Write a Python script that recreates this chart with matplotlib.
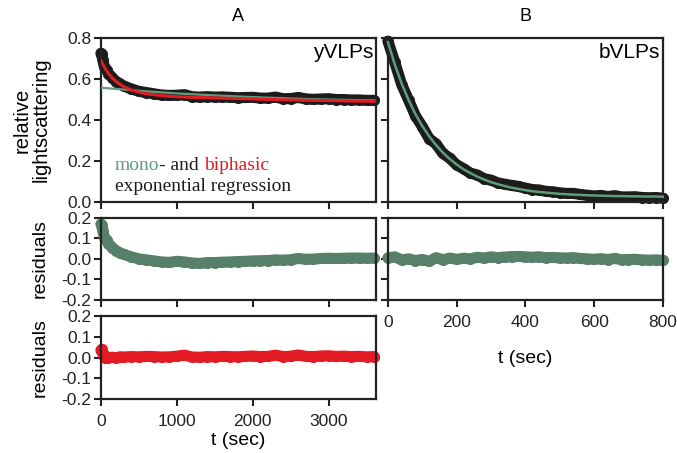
import numpy as np
import matplotlib
matplotlib.use("Agg")
import matplotlib.pyplot as plt

plt.rcParams['font.family'] = ['Liberation Sans', 'DejaVu Sans']

# ---- panel A (yVLPs) ----
t_A = [0, 10, 25, 50, 75, 100, 150, 200, 250, 300, 400, 500, 600, 700, 800, 900,
       1000, 1100, 1200, 1300, 1400, 1500, 1600, 1700, 1800, 1900, 2000, 2100,
       2200, 2300, 2400, 2500, 2600, 2700, 2800, 2900, 3000, 3100, 3200, 3300,
       3400, 3500, 3600]
data_A = [0.725, 0.722, 0.692, 0.655, 0.645, 0.627, 0.607, 0.588, 0.578, 0.566,
          0.552, 0.540, 0.534, 0.528, 0.522, 0.520, 0.521, 0.524, 0.514, 0.512,
          0.514, 0.512, 0.513, 0.511, 0.509, 0.510, 0.511, 0.507, 0.507, 0.512,
          0.504, 0.505, 0.510, 0.503, 0.501, 0.503, 0.504, 0.500, 0.500, 0.498,
          0.498, 0.496, 0.496]
resid_mono_A = [0.170, 0.165, 0.135, 0.100, 0.090, 0.075, 0.055, 0.040, 0.030, 0.022,
                0.010, 0.000, -0.005, -0.010, -0.015, -0.017, -0.012, -0.015, -0.020,
                -0.022, -0.018, -0.018, -0.016, -0.015, -0.013, -0.012, -0.010, -0.009,
                -0.008, -0.005, -0.006, -0.004, 0.002, -0.002, -0.001, 0.002, 0.003,
                0.002, 0.003, 0.004, 0.004, 0.003, 0.004]
resid_bi_A = [0.035, 0.040, 0.020, 0.000, 0.005, 0.000, 0.002, 0.000, 0.004, 0.003,
              0.005, 0.004, 0.006, 0.005, 0.003, 0.004, 0.007, 0.012, 0.003, 0.002,
              0.005, 0.004, 0.006, 0.005, 0.004, 0.006, 0.008, 0.005, 0.006, 0.012,
              0.005, 0.007, 0.013, 0.006, 0.005, 0.008, 0.009, 0.006, 0.007, 0.005,
              0.006, 0.004, 0.005]

t_fit_A = [0, 25, 50, 100, 150, 200, 300, 400, 500, 600, 800, 1000, 1200, 1500,
           2000, 2500, 3000, 3600]
bi_fit_A = [0.690, 0.672, 0.655, 0.627, 0.605, 0.588, 0.563, 0.547, 0.536, 0.528,
            0.519, 0.514, 0.511, 0.508, 0.503, 0.498, 0.495, 0.491]
mono_fit_A = [0.557, 0.557, 0.556, 0.555, 0.553, 0.552, 0.549, 0.546, 0.543, 0.540,
              0.535, 0.530, 0.526, 0.520, 0.512, 0.505, 0.500, 0.496]

# ---- panel B (bVLPs) ----
t_B = [0, 20, 40, 60, 80, 100, 120, 140, 160, 180, 200, 220, 240, 260, 280, 300,
       320, 340, 360, 380, 400, 420, 440, 460, 480, 500, 520, 540, 560, 580, 600,
       620, 640, 660, 680, 700, 720, 740, 760, 780, 800]
data_B = [0.785, 0.681, 0.573, 0.498, 0.421, 0.368, 0.309, 0.284, 0.237, 0.214,
          0.181, 0.163, 0.141, 0.132, 0.114, 0.107, 0.093, 0.087, 0.081, 0.076,
          0.068, 0.061, 0.059, 0.052, 0.050, 0.045, 0.042, 0.042, 0.037, 0.033,
          0.030, 0.032, 0.027, 0.031, 0.025, 0.025, 0.026, 0.022, 0.021, 0.022,
          0.019]
resid_B = [0.005, 0.010, -0.005, 0.000, -0.008, -0.003, -0.012, 0.006, -0.004, 0.004,
           -0.002, 0.003, 0.000, 0.008, 0.004, 0.010, 0.006, 0.009, 0.011, 0.012,
           0.010, 0.008, 0.010, 0.006, 0.007, 0.005, 0.004, 0.006, 0.002, 0.000,
           -0.002, 0.001, -0.003, 0.002, -0.004, -0.003, -0.002, -0.005, -0.006,
           -0.005, -0.007]
fit_B = [0.780, 0.671, 0.578, 0.498, 0.429, 0.371, 0.321, 0.278, 0.241, 0.210,
         0.183, 0.160, 0.141, 0.124, 0.110, 0.097, 0.087, 0.078, 0.070, 0.064,
         0.058, 0.053, 0.049, 0.046, 0.043, 0.040, 0.038, 0.036, 0.035, 0.033,
         0.032, 0.031, 0.030, 0.029, 0.029, 0.028, 0.028, 0.027, 0.027, 0.027,
         0.026]

black = '#1c1c1c'
green_pts = '#56806a'
green_line = '#5e9c7c'
red = '#e31b23'

fig = plt.figure(figsize=(6.77, 4.53), dpi=100)

W = 0.406
axA = fig.add_axes([0.149, 0.554, W, 0.362])
axA2 = fig.add_axes([0.149, 0.338, W, 0.181])
axA3 = fig.add_axes([0.149, 0.119, W, 0.183])
axB = fig.add_axes([0.573, 0.554, W, 0.362])
axB2 = fig.add_axes([0.573, 0.338, W, 0.181])

band = dict(lw=8, marker='o', ms=8, mew=0, solid_capstyle='round',
            solid_joinstyle='round', clip_on=False)

axA.plot(t_A, data_A, color=black, zorder=2, **band)
axA.plot(t_fit_A, mono_fit_A, color=green_line, lw=1.6, zorder=3)
axA.plot(t_fit_A, bi_fit_A, color=red, lw=2.2, zorder=4)
axA2.plot(t_A, resid_mono_A, color=green_pts, **band)
axA3.plot(t_A, resid_bi_A, color=red, **band)

axB.plot(t_B, data_B, color=black, zorder=2, **band)
axB.plot(t_B, fit_B, color=green_line, lw=1.8, zorder=3, clip_on=False)
axB2.plot(t_B, resid_B, color=green_pts, **band)

for ax in [axA, axA2, axA3, axB, axB2]:
    for s in ax.spines.values():
        s.set_linewidth(1.6)
        s.set_color('#222222')
    ax.tick_params(direction='out', length=5, width=1.5, labelsize=12.5,
                   colors='#222222', pad=2)

for ax in [axA, axA2, axA3]:
    ax.set_xlim(0, 3620)
    ax.set_xticks([0, 1000, 2000, 3000])
for ax in [axB, axB2]:
    ax.set_xlim(0, 800)
    ax.set_xticks([0, 200, 400, 600, 800])

for ax in [axA, axB]:
    ax.set_ylim(0, 0.8)
    ax.set_yticks([0, 0.2, 0.4, 0.6, 0.8])
    ax.tick_params(labelbottom=False)
for ax in [axA2, axA3, axB2]:
    ax.set_ylim(-0.2, 0.2)
    ax.set_yticks([-0.2, -0.1, 0.0, 0.1, 0.2])
axA2.tick_params(labelbottom=False)
axB.tick_params(labelleft=False)
axB2.tick_params(labelleft=False)
axA3.tick_params(axis='x', pad=6)
axB2.tick_params(axis='x', pad=6)

axA.yaxis.set_major_formatter(plt.FormatStrFormatter('%.1f'))
for ax in [axA2, axA3]:
    ax.yaxis.set_major_formatter(plt.FormatStrFormatter('%.1f'))

axA.set_title('A', fontsize=13, pad=12)
axB.set_title('B', fontsize=13, pad=12)

axA.set_ylabel('relative\nlightscattering', fontsize=14.5, labelpad=12, linespacing=1.0)
axA2.set_ylabel('residuals', fontsize=14, labelpad=9)
axA3.set_ylabel('residuals', fontsize=14, labelpad=9)
axA3.set_xlabel('t (sec)', fontsize=14, labelpad=2)
axB2.set_xlabel('t (sec)', fontsize=14, labelpad=14)

axA.text(0.99, 0.97, 'yVLPs', transform=axA.transAxes, ha='right', va='top',
         fontsize=15)
axB.text(0.99, 0.97, 'bVLPs', transform=axB.transAxes, ha='right', va='top',
         fontsize=15)

serif = ['Liberation Serif', 'DejaVu Serif']
t1 = axA.text(0.05, 0.225, 'mono', transform=axA.transAxes, color=green_line,
              fontsize=14, family=serif, va='center')
fig.canvas.draw()
t2 = axA.annotate('- and ', xycoords=t1, xy=(1, 0), va='bottom', fontsize=14,
                  family=serif, color=black)
fig.canvas.draw()
axA.annotate('biphasic', xycoords=t2, xy=(1, 0), va='bottom', fontsize=14,
             family=serif, color=red)
axA.text(0.05, 0.095, 'exponential regression', transform=axA.transAxes,
         color=black, fontsize=14, family=serif, va='center')

fig.savefig('out.png', dpi=100)
